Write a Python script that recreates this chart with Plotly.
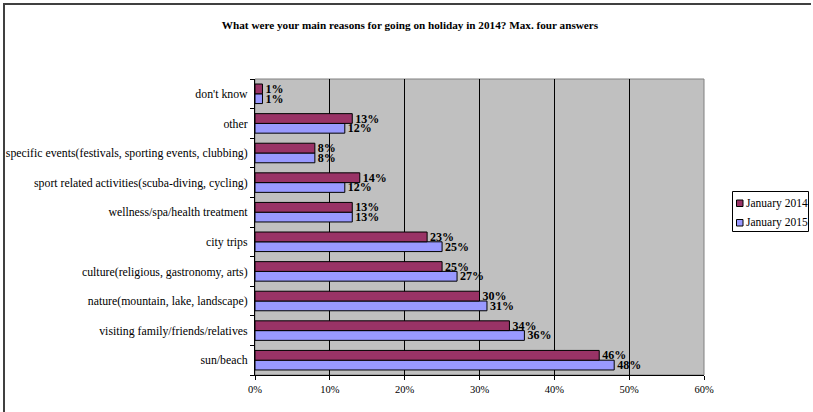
import plotly.graph_objects as go

categories = [
    "sun/beach",
    "visiting family/friends/relatives",
    "nature(mountain, lake, landscape)",
    "culture(religious, gastronomy, arts)",
    "city trips",
    "wellness/spa/health treatment",
    "sport related activities(scuba-diving, cycling)",
    "specific events(festivals, sporting events, clubbing)",
    "other",
    "don't know",
]
jan_2014 = [46, 34, 30, 25, 23, 13, 14, 8, 13, 1]
jan_2015 = [48, 36, 31, 27, 25, 13, 12, 8, 12, 1]
x_ticks = [0, 10, 20, 30, 40, 50, 60]
x_tick_labels = ["0%", "10%", "20%", "30%", "40%", "50%", "60%"]

series = [("January 2014", jan_2014, "#993366"), ("January 2015", jan_2015, "#9999FF")]

W, H = 813, 412
L, R, T, B = 255, 109, 79, 37
pw, ph = W - L - R, H - T - B

serif = "Liberation Serif"


def px_x(p):
    return (p - L) / pw


def px_y(p):
    return 1 - (p - T) / ph


def bar(name, vals, color):
    return go.Bar(
        name=name,
        y=categories,
        x=vals,
        orientation="h",
        marker=dict(color=color, line=dict(color="black", width=1)),
        text=[f"{v}%" for v in vals],
        textposition="outside",
        constraintext="none",
        textfont=dict(family=serif, size=12, color="black", weight="bold"),
        cliponaxis=False,
        showlegend=False,
    )


fig = go.Figure()
# lower bar of each pair first, so 2014 sits on top
for name, vals, color in reversed(series):
    fig.add_trace(bar(name, vals, color))

shapes = [
    # plot-area border (top/right)
    dict(type="rect", xref="paper", yref="paper", x0=0, x1=1, y0=0, y1=1,
         line=dict(color="#808080", width=1), layer="below"),
    # outer chart frame: left and top edges
    dict(type="line", xref="paper", yref="paper",
         x0=px_x(4), x1=px_x(4), y0=px_y(3), y1=px_y(H),
         line=dict(color="#404040", width=2)),
    dict(type="line", xref="paper", yref="paper",
         x0=px_x(3), x1=px_x(W - 2), y0=px_y(4), y1=px_y(4),
         line=dict(color="#404040", width=2)),
    # legend box
    dict(type="rect", xref="paper", yref="paper",
         x0=px_x(732.5), x1=px_x(808.5), y0=px_y(231.5), y1=px_y(191.5),
         line=dict(color="black", width=1), fillcolor="white"),
]
annotations = []
for i, (name, vals, color) in enumerate(series):
    cy = 203 + i * 19.5
    shapes.append(dict(type="rect", xref="paper", yref="paper",
                       x0=px_x(736.5), x1=px_x(743), y0=px_y(cy + 3.5), y1=px_y(cy - 3),
                       line=dict(color="black", width=1), fillcolor=color))
    annotations.append(dict(text=name, xref="paper", yref="paper",
                            x=px_x(744), y=px_y(cy), xanchor="left", yanchor="middle",
                            showarrow=False,
                            font=dict(family=serif, size=11.5, color="black")))

fig.update_layout(
    width=W,
    height=H,
    margin=dict(l=L, r=R, t=T, b=B, pad=0, autoexpand=False),
    paper_bgcolor="white",
    plot_bgcolor="#C0C0C0",
    barmode="group",
    bargap=0.34,
    bargroupgap=0,
    showlegend=False,
    title=dict(
        text="<b>What were your main reasons for going on holiday in 2014? Max. four answers</b>",
        font=dict(family=serif, size=11.2, color="black"),
        x=410 / W,
        xref="container",
        xanchor="center",
        y=1 - 25 / H,
        yanchor="middle",
    ),
    xaxis=dict(
        range=[0, 60],
        tickvals=x_ticks,
        ticktext=x_tick_labels,
        showgrid=True,
        gridcolor="black",
        gridwidth=1,
        zeroline=False,
        showline=True,
        linecolor="black",
        linewidth=1,
        ticks="outside",
        ticklen=4,
        tickcolor="black",
        tickfont=dict(family=serif, size=10.5, color="black"),
    ),
    yaxis=dict(
        type="category",
        categoryorder="array",
        categoryarray=categories,
        showgrid=False,
        zeroline=False,
        showline=True,
        linecolor="black",
        linewidth=1,
        ticks="outside",
        tickson="boundaries",
        ticklen=4,
        tickcolor="black",
        ticklabelstandoff=4,
        tickfont=dict(family=serif, size=11.8, color="black"),
    ),
    shapes=shapes,
    annotations=annotations,
)

fig.write_html("out.html")
